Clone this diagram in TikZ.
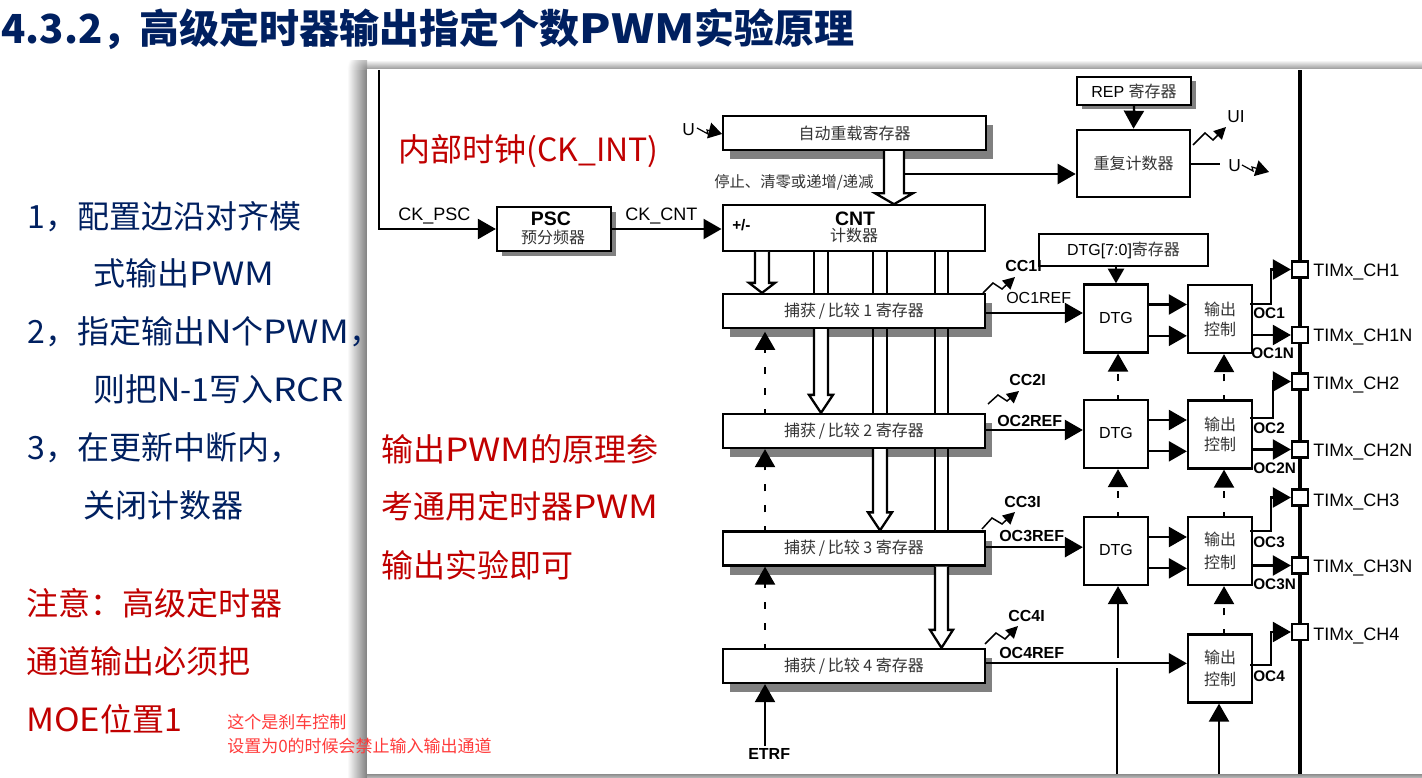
\documentclass[tikz,border=0pt]{standalone}
\usepackage{fontspec}
\setmainfont{Liberation Sans}
\newfontfamily\cjk{Noto Sans CJK SC}
\newfontfamily\wl[FakeStretch=1.15]{Noto Sans CJK SC}
\newfontfamily\wn[FakeStretch=1.08]{Noto Sans CJK SC}
\usetikzlibrary{arrows.meta,calc,shadows}
\definecolor{navy}{HTML}{002060}
\definecolor{darkred}{HTML}{C00000}
\definecolor{notered}{HTML}{FF3B3B}
\definecolor{boxtext}{HTML}{333333}
\newcommand{\fsz}[1]{\fontsize{#1}{#1}\selectfont}
\tikzset{
	box/.style={draw,line width=1.7pt,fill=white,inner sep=0pt,align=center,text=boxtext,font=\cjk\fsz{12}},
	capbox/.style={box,minimum width=196.5pt,minimum height=25.5pt,
		drop shadow={shadow xshift=5pt,shadow yshift=-7pt,opacity=1,fill=black!50}},
	dtgbox/.style={box,minimum width=48pt,minimum height=51pt},
	padbox/.style={draw,line width=1.7pt,fill=white,minimum size=12pt,inner sep=0pt},
	sig/.style={line width=1.7pt},
	bus/.style={line width=1.7pt},
	dsh/.style={dash pattern=on 5.25pt off 10.5pt,dash phase=2.25pt},
	flash/.style={line width=1.1pt,-{Triangle[length=9pt,width=9pt]}},
	lab/.style={inner sep=0pt,anchor=west,font=\fsz{12}},
	blab/.style={lab,font=\bfseries\fsz{12}},
	chlab/.style={lab,font=\fsz{13.5}},
	slide/.style={inner sep=0pt,anchor=west,font=\cjk\fsz{24}},
}
% x, half width, wing, head length, from, to
\newcommand{\busarrow}[6]{
	\coordinate (bl) at (#1-#2,0);
	\coordinate (br) at (#1+#2,0);
	\coordinate (bt) at (#1,0);
	\coordinate (bh) at ($(#6.north)+(0,-#4)$);
	\draw[bus,fill=white] (bl |- #5.south) -- (bl |- bh) -- ($(bl |- bh)+(-#3,0)$) -- (bt |- #6.north)
		-- ($(br |- bh)+(#3,0)$) -- (br |- bh) -- (br |- #5.south);
}
% x, half width, from, to
\newcommand{\busstrip}[4]{
	\coordinate (bl) at (#1-#2,0);
	\coordinate (br) at (#1+#2,0);
	\draw[bus,fill=white] (bl |- #3.south) -- (bl |- #4.north) (br |- #4.north) -- (br |- #3.south);
}
\begin{document}
\begin{tikzpicture}[>={Triangle[length=13.5pt,width=15pt]},x=0.75pt,y=-0.75pt]
	\useasboundingbox (0,0) rectangle (1422,778);
	\fill[white] (0,0) rectangle (1422,778);
	% panel with its soft edge
	\shade[left color=white,right color=black!50] (347,69) rectangle (367,778);
	\shade[top color=white,bottom color=black!40] (367,60) rectangle (1422,69);
	\begin{scope}
		\clip (347,60) rectangle (367,69);
		\shade[inner color=black!45,outer color=white] (367,69) circle (20);
	\end{scope}
	\shade[top color=black!45,bottom color=black!25] (367,774) rectangle (1422,778);
	\fill[white] (367,69) rectangle (1422,774);

	\node[slide,font=\cjk\bfseries\fsz{30},text=navy] (title) at (1,29) {4.3.2，\hspace{-2pt}高级定时器输出指定个数{\wl PWM}实验原理};

	\node[slide,text=navy] (stepa) at (27,217) {1，配置边沿对齐模};
	\node[slide,text=navy] (stepb) at (93,273) {式输出{\wl PWM}};
	\node[slide,text=navy] (stepc) at (27,332) {2，指定输出{\wl N}个{\wl PWM}，};
	\node[slide,text=navy] (stepd) at (93,389) {则把N-1写入{\wl RCR}};
	\node[slide,text=navy] (stepe) at (27,448) {3，在更新中断内，};
	\node[slide,text=navy] (stepf) at (83,505) {关闭计数器};
	\node[slide,text=darkred] (notea) at (26,603) {注意：高级定时器};
	\node[slide,text=darkred] (noteb) at (26,661) {通道输出必须把};
	\node[slide,text=darkred] (notec) at (26,719) {{\wn MOE}位置1};

	% clock and counter row
	\coordinate (ckin) at (379,70);
	\node[box,minimum width=85.5pt,minimum height=33pt,
		drop shadow={shadow xshift=4pt,shadow yshift=-4pt,opacity=1,fill=black!50}] (psc) at (554,229) {};
	\node[box,minimum width=197pt,minimum height=34pt] (cnt) at (854,228) {};
	\node[box,minimum width=197pt,minimum height=25.5pt,
		drop shadow={shadow xshift=5pt,shadow yshift=-7pt,opacity=1,fill=black!50}] (arr) at (854.5,133) {自动重载寄存器};
	\node[box,minimum width=85.5pt,minimum height=21pt,font=\fsz{12},text=black,
		drop shadow={shadow xshift=4pt,shadow yshift=-3pt,opacity=1,fill=black!50}] (rep) at (1134,91) {REP {\cjk\color{boxtext} 寄存器}};
	\node[box,minimum width=85pt,minimum height=50.5pt] (rcnt) at (1133.5,163.5) {重复计数器};
	\node[box,minimum width=127pt,minimum height=24pt,font=\fsz{12},text=black] (dtgreg) at (1123.5,250) {DTG[7:0]{\cjk\color{boxtext} 寄存器}};

	\node[font=\bfseries\fsz{14.6},inner sep=0pt] (psct) at (551,219) {PSC};
	\node[font=\cjk\fsz{12},text=boxtext,inner sep=0pt] (pscz) at (553,237) {预分频器};
	\node[font=\bfseries\fsz{14.6},inner sep=0pt] (cntt) at (855,219) {CNT};
	\node[font=\cjk\fsz{12},text=boxtext,inner sep=0pt] (cntz) at (854,235) {计数器};
	\node[lab,font=\bfseries\fsz{11.5}] (pm) at (732,225) {+/-};

	\node[capbox] (cmpA) at (854,311) {\raisebox{-1pt}{捕获\,/\,比较 1 寄存器}};
	\node[capbox] (cmpB) at (854,431) {捕获\,/\,比较 2 寄存器};
	\node[capbox] (cmpC) at (854,548.5) {\raisebox{-1pt}{捕获\,/\,比较 3 寄存器}};
	\node[capbox] (cmpD) at (854,666) {捕获\,/\,比较 4 寄存器};

	\node[dtgbox,font=\fsz{12},text=black] (dtgA) at (1116,318.5) {\raisebox{1.5pt}{DTG}};
	\node[dtgbox,font=\fsz{12},text=black] (dtgB) at (1116,434) {\raisebox{1.5pt}{DTG}};
	\node[dtgbox,font=\fsz{12},text=black] (dtgC) at (1116,551) {\raisebox{1.5pt}{DTG}};
	\node[dtgbox] (outA) at (1220,319) {输出\\[3pt]控制};
	\node[dtgbox] (outB) at (1220,434.5) {输出\\[3pt]控制};
	\node[dtgbox] (outC) at (1220,551) {输出\\[5pt]控制};
	\node[dtgbox] (outD) at (1220,668.5) {输出\\[5pt]控制};

	% output pins on the bus
	\coordinate (bustop) at (1300,70);
	\coordinate (busend) at (1300,774);
	\draw[line width=2.4pt] (bustop) -- (busend);
	\node[padbox] (chA) at (1300,269.5) {};
	\node[padbox] (chAn) at (1300,335) {};
	\node[padbox] (chB) at (1300,381.5) {};
	\node[padbox] (chBn) at (1300,449.5) {};
	\node[padbox] (chC) at (1300,497.5) {};
	\node[padbox] (chCn) at (1300,565.5) {};
	\node[padbox] (chD) at (1300,632) {};
	\node[chlab] at (1313,272) {TIMx\_CH1};
	\node[chlab] at (1313,337.5) {TIMx\_CH1N};
	\node[chlab] at (1313,385.5) {TIMx\_CH2};
	\node[chlab] at (1313,452) {TIMx\_CH2N};
	\node[chlab] at (1313,501.5) {TIMx\_CH3};
	\node[chlab] at (1313,568) {TIMx\_CH3N};
	\node[chlab] at (1313,635.5) {TIMx\_CH4};

	\draw[sig,->] (ckin) |- (psc.west);
	\draw[sig,->] (psc.east) -- (cnt.west |- psc.east);
	\draw[sig,->] (rep.south) -- (rcnt.north);
	\coordinate (arrbr) at (904,174);
	\draw[line width=1.7pt,->] (arrbr) -- (rcnt.west |- arrbr);
	\coordinate (rcntu) at (1220,164);
	\draw[sig] (rcnt.east |- rcntu) -- (rcntu);

	% data buses
	\busarrow{894}{10}{9}{11}{arr}{cnt}
	\busarrow{762}{7}{6}{10}{cnt}{cmpA}
	\busstrip{821}{7}{cnt}{cmpA}
	\busstrip{880}{7}{cnt}{cmpA}
	\busstrip{941.5}{6.5}{cnt}{cmpA}
	\busarrow{821}{7}{5}{18}{cmpA}{cmpB}
	\busstrip{880}{7}{cmpA}{cmpB}
	\busstrip{941.5}{6.5}{cmpA}{cmpB}
	\busarrow{880}{7}{5}{18}{cmpB}{cmpC}
	\busstrip{941.5}{6.5}{cmpB}{cmpC}
	\busarrow{941.5}{6.5}{5}{18}{cmpC}{cmpD}

	% update and trigger lines
	\coordinate (upd) at (765,0);
	\draw[sig,dsh,->,shorten >=2pt] (upd |- cmpB.north) -- (upd |- cmpA.south);
	\draw[sig,dsh,->] (upd |- cmpC.north) -- (upd |- cmpB.south);
	\draw[sig,dsh,->] (upd |- cmpD.north) -- (upd |- cmpC.south);
	\coordinate (etrin) at (765,746);
	\draw[sig,->] (etrin) -- (upd |- cmpD.south);

	% compare outputs
	\draw[sig,->] ([yshift=-1.5pt]cmpA.east) -- ([yshift=-1.5pt]dtgA.west |- cmpA.east);
	\draw[sig,->] ([yshift=0.75pt]cmpB.east) -- ([yshift=0.75pt]dtgB.west |- cmpB.east);
	\draw[sig,->] ([yshift=1pt]cmpC.east) -- ([yshift=1pt]dtgC.west |- cmpC.east);
	\draw[sig,->] ([yshift=2pt]cmpD.east) -- ([yshift=2pt]outD.west |- cmpD.east);

	\foreach \n in {A,B,C}{
		\draw[sig,->] ([yshift=10.5pt]dtg\n.east) -- ([yshift=10.5pt]out\n.west |- dtg\n.east);
		\draw[sig,->] ([yshift=-13pt]dtg\n.east) -- ([yshift=-13pt]out\n.west |- dtg\n.east);
	}
	\draw[sig,-{Triangle[length=11pt,width=12pt]}] (dtgA.north |- dtgreg.south) -- (dtgA.north);

	% break lines from below
	\coordinate (brk) at (1118,0);
	\draw[sig,dsh,->] (brk |- dtgB.north) -- (brk |- dtgA.south);
	\draw[sig,dsh,->] (brk |- dtgC.north) -- (brk |- dtgB.south);
	\coordinate (brka) at (1118,658);
	\coordinate (brkb) at (1117,668);
	\coordinate (brkc) at (1117,774);
	\draw[sig,->] (brka) -- (brk |- dtgC.south);
	\draw[sig] (brkc) -- (brkb);
	\coordinate (oen) at (1224,0);
	\draw[sig,dsh,->] (oen |- outB.north) -- (oen |- outA.south);
	\draw[sig,dsh,->] (oen |- outC.north) -- (oen |- outB.south);
	\draw[sig,dsh,->] (oen |- outD.north) -- (oen |- outC.south);
	\coordinate (oein) at (1219,774);
	\draw[sig,->] (oein) -- (oein |- outD.south);

	% channel outputs, kinked into the pins
	\draw[sig,->] (1250,304) -| (1271,269.5) -- (chA.west);
	\draw[sig,->] (outA.east |- chAn) -- (chAn.west);
	\draw[sig,->] (1250,418) -| (1273,381.5) -- (chB.west);
	\draw[sig,->] (outB.east |- chBn) -- (chBn.west);
	\draw[sig,->] (1250,531) -| (1271,497.5) -- (chC.west);
	\draw[sig,->] (outC.east |- chCn) -- (chCn.west);
	\draw[sig,->] (1250,665) -| (1271,632) -- (chD.west);

	% interrupt flashes
	\draw[flash] (983,293) -- ++(10,-10) -- ++(9,6) -- (1015,277);
	\draw[flash] (988,404) -- ++(10,-9) -- ++(9,6) -- (1019,391);
	\draw[flash] (982,529) -- ++(10,-11) -- ++(10,6) -- (1015,512);
	\draw[flash] (985,644) -- ++(11,-11) -- ++(9,6) -- (1018,626);
	\draw[flash] (1193,145) -- (1205,133) -- (1213,140) -- (1226,127);
	\draw[line width=0.9pt,-{Triangle[length=10pt,width=12pt]}] (697,128) -- (708,134) -- (707,130) -- (722,134);
	\draw[line width=0.9pt,-{Triangle[length=10pt,width=12pt]}] (1242,165) -- (1253,171) -- (1252,167) -- (1269,172);

	% labels
	\node[lab] at (398,216) {\fsz{13.5}CK\_PSC};
	\node[lab] at (625,216) {\fsz{13.5}CK\_CNT};
	\node[lab,font=\fsz{13}] at (682,130) {U};
	\node[lab,font=\fsz{13}] at (1227,117) {UI};
	\node[lab,font=\fsz{13}] at (1228,166) {U};
	\node[lab,font=\cjk\fsz{11.5},text=boxtext] (stopl) at (714,182) {停止、清零或递增/递减};
	\node[blab] at (1005,266) {CC1I};
	\node[blab] at (1009,380) {CC2I};
	\node[blab] at (1004,502) {CC3I};
	\node[blab] at (1008,616) {CC4I};
	\node[lab] at (1006,298) {OC1REF};
	\node[blab] at (997,421) {OC2REF};
	\node[blab] at (999,536) {OC3REF};
	\node[blab] at (999,653) {OC4REF};
	\node[blab,font=\bfseries\fsz{11.5}] at (1253,313) {OC1};
	\node[blab,font=\bfseries\fsz{11.5}] at (1251,353) {OC1N};
	\node[blab,font=\bfseries\fsz{11.5}] at (1253,428) {OC2};
	\node[blab,font=\bfseries\fsz{11.5}] at (1253,468) {OC2N};
	\node[blab,font=\bfseries\fsz{11.5}] at (1253,542) {OC3};
	\node[blab,font=\bfseries\fsz{11.5}] at (1253,584) {OC3N};
	\node[blab,font=\bfseries\fsz{11.5}] at (1253,676) {OC4};
	\node[blab] at (748,754) {ETRF};

	% remarks set over the figure
	\node[slide,text=darkred] (clk) at (398,151) {内部时钟(CK\_INT)};
	\node[slide,text=darkred] (pwma) at (381,449) {输出{\wl PWM}的原理参};
	\node[slide,text=darkred] (pwmb) at (381,506) {考通用定时器{\wl PWM}};
	\node[slide,text=darkred] (pwmc) at (381,565) {输出实验即可};
	\node[slide,font=\cjk\fsz{12.75},text=notered] (brka1) at (227,722) {这个是刹车控制};
	\node[slide,font=\cjk\fsz{12.75},text=notered] (brka2) at (227,746) {设置为0的时候会禁止输入输出通道};
\end{tikzpicture}
\end{document}
